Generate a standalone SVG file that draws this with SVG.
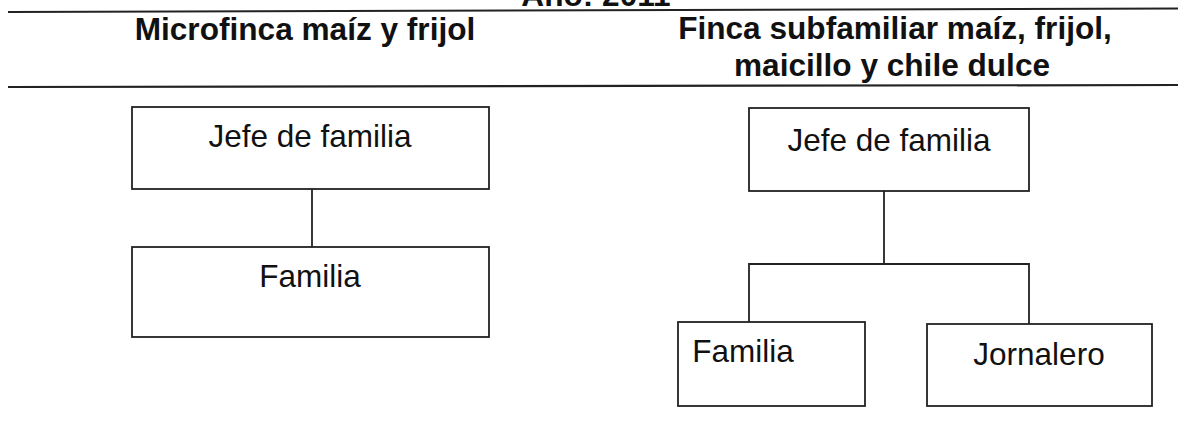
<svg xmlns="http://www.w3.org/2000/svg" width="1178" height="435" viewBox="0 0 1178 435">
<style>
.hd{font-family:"Liberation Sans",Arial,sans-serif;font-weight:bold;font-size:31.6px;fill:#111;text-anchor:middle}
.tx{font-family:"Liberation Sans",Arial,sans-serif;font-size:31.5px;fill:#111;text-anchor:middle}
.bx{fill:#fff;stroke:#222;stroke-width:1.8}
.rule{stroke:#222;stroke-width:2.2;fill:none}
.cn{stroke:#222;stroke-width:1.8;fill:none}
</style>
<rect width="1178" height="435" fill="#fff"/>
<g id="header">
<text class="hd" x="596" y="6">Año: 2011</text>
<line class="rule" x1="8" y1="12" x2="1178" y2="8.5"/>
<text class="hd" x="305" y="40">Microfinca maíz y frijol</text>
<text class="hd" x="895" y="39">Finca subfamiliar maíz, frijol,</text>
<text class="hd" x="892" y="76">maicillo y chile dulce</text>
<line class="rule" x1="8" y1="87" x2="1178" y2="85"/>
</g>
<g id="connectors">
<line class="cn" x1="312" y1="189" x2="312" y2="247"/>
<polyline class="cn" points="884,191 884,264"/>
<polyline class="cn" points="749,322 749,264 1029,264 1029,324"/>
</g>
<g id="l-jefe">
<rect class="bx" x="132" y="107" width="357" height="82"/>
<text class="tx" x="310" y="147">Jefe de familia</text>
</g>
<g id="l-familia">
<rect class="bx" x="132" y="247" width="357" height="90"/>
<text class="tx" x="310" y="287">Familia</text>
</g>
<g id="r-jefe">
<rect class="bx" x="749" y="108" width="280" height="83"/>
<text class="tx" x="889" y="151">Jefe de familia</text>
</g>
<g id="r-familia">
<rect class="bx" x="678" y="322" width="187" height="84"/>
<text class="tx" x="743" y="362">Familia</text>
</g>
<g id="r-jornalero">
<rect class="bx" x="927" y="324" width="225" height="82"/>
<text class="tx" x="1039" y="365">Jornalero</text>
</g>
</svg>
